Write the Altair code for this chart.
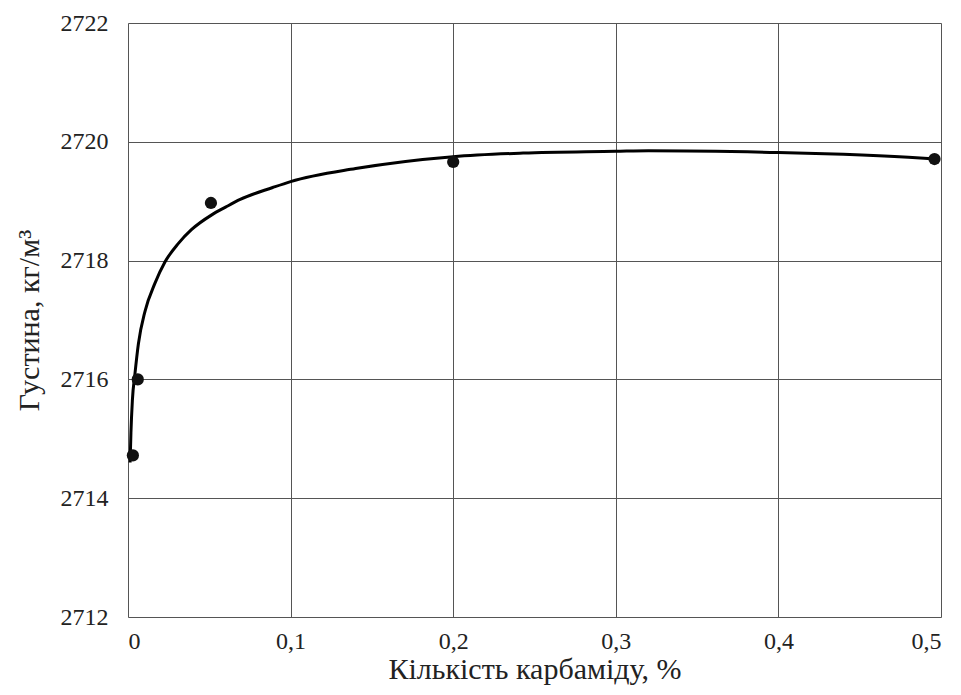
import altair as alt
import pandas as pd

# measured points
pt_x = [0.003, 0.006, 0.051, 0.2, 0.496]
pt_y = [2714.72, 2716.0, 2718.97, 2719.66, 2719.71]

# trend curve
cv_x = [0.0013, 0.0018, 0.0027, 0.0043, 0.0064, 0.0105, 0.0166, 0.0228, 0.031, 0.039,
        0.0515, 0.06, 0.069, 0.089, 0.1, 0.14, 0.2, 0.243, 0.3, 0.32, 0.4, 0.44, 0.48, 0.497]
cv_y = [2714.6, 2715.1, 2715.65, 2716.1, 2716.6, 2717.15, 2717.62, 2717.98, 2718.29, 2718.52,
        2718.77, 2718.9, 2719.03, 2719.23, 2719.33, 2719.55, 2719.75, 2719.81, 2719.84, 2719.85,
        2719.82, 2719.79, 2719.74, 2719.71]

x_ticks = [0, 0.1, 0.2, 0.3, 0.4, 0.5]
y_ticks = [2712, 2714, 2716, 2718, 2720, 2722]

pts = pd.DataFrame({"x": pt_x, "y": pt_y})
cv = pd.DataFrame({"x": cv_x, "y": cv_y})

FONT = "Liberation Serif, Times New Roman, DejaVu Serif, serif"

xs = alt.Scale(domain=[0, 0.5], nice=False, zero=False)
ys = alt.Scale(domain=[2712, 2722], nice=False, zero=False)

xax = alt.Axis(values=x_ticks, title="Кількість карбаміду, %",
               labelExpr="datum.value == 0 ? '0' : replace(format(datum.value, '.1f'), '.', ',')",
               grid=True, gridColor="#555555", gridWidth=1, domain=False, ticks=False,
               labelFont=FONT, labelFontSize=24, labelColor="#222222", labelPadding=12,
               titleFont=FONT, titleFontSize=30, titleFontWeight="normal", titleColor="#222222",
               titlePadding=1)
yax = alt.Axis(values=y_ticks, title="Густина, кг/м³", format="d",
               grid=True, gridColor="#555555", gridWidth=1, domain=False, ticks=False,
               labelFont=FONT, labelFontSize=24, labelColor="#222222", labelPadding=20,
               titleFont=FONT, titleFontSize=30, titleFontWeight="normal", titleColor="#222222",
               titlePadding=16)

line = alt.Chart(cv).mark_line(color="black", strokeWidth=3, interpolate="monotone").encode(
    x=alt.X("x:Q", scale=xs, axis=xax),
    y=alt.Y("y:Q", scale=ys, axis=yax),
)
dots = alt.Chart(pts).mark_point(filled=True, color="#111111", size=150, opacity=1).encode(
    x=alt.X("x:Q", scale=xs),
    y=alt.Y("y:Q", scale=ys),
)

chart = (line + dots).properties(
    width=813, height=594,
    autosize=alt.AutoSizeParams(type="none"),
    padding={"left": 120, "top": 15, "right": 10, "bottom": 70},
).configure_view(stroke="#111111", strokeWidth=2).configure(background="white", font=FONT)

chart.save("out.html", embed_options={"renderer": "svg", "actions": False})
